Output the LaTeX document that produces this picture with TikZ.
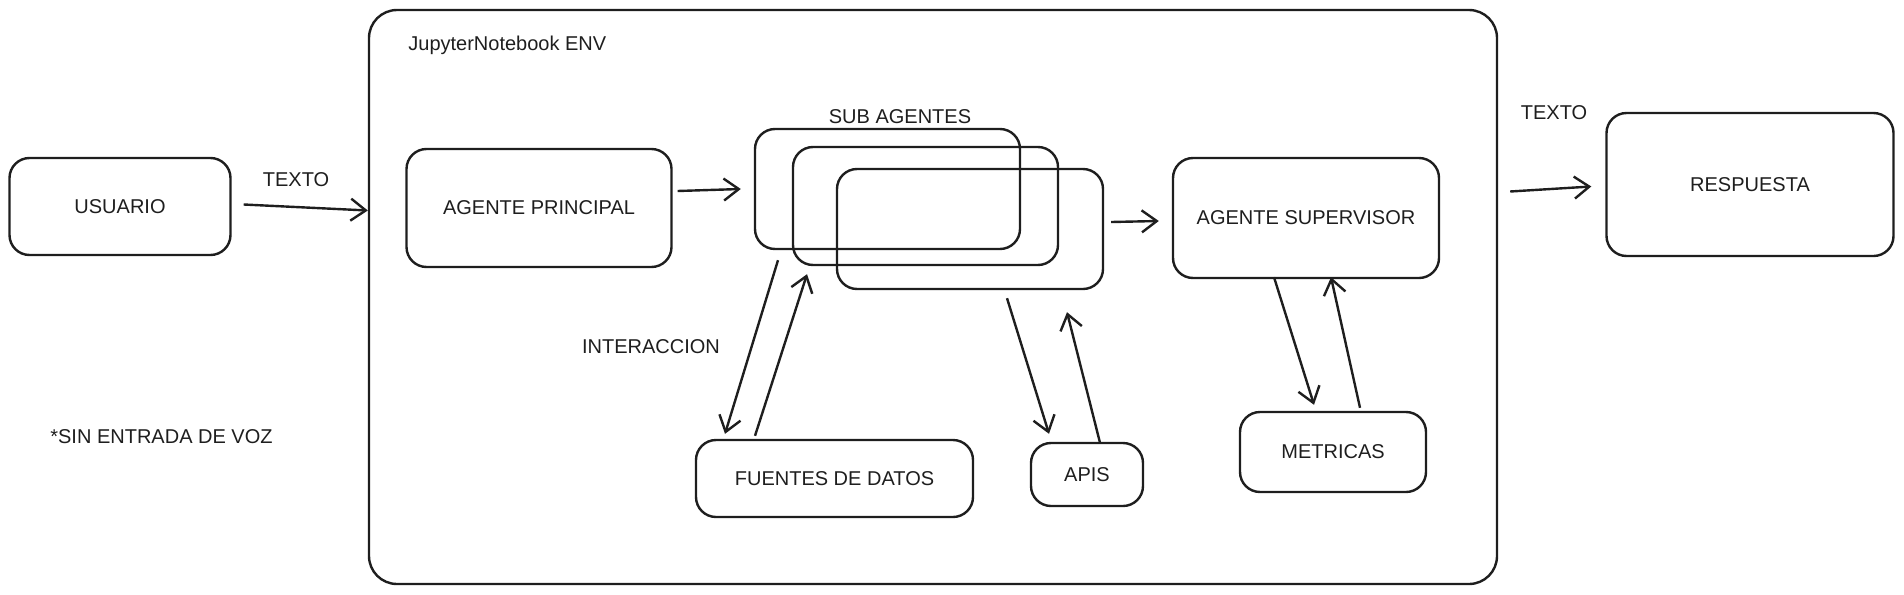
\documentclass[tikz,border=0pt]{standalone}
\usepackage{fontspec}
\setmainfont{Liberation Sans}
\usetikzlibrary{arrows.meta}
\definecolor{ink}{HTML}{1E1E1E}

\begin{document}
\begin{tikzpicture}[x=0.5pt, y=-0.5pt, color=ink, font=\fontsize{10}{12}\selectfont,
    box/.style={draw, line width=1.2pt, rounded corners=10pt, inner sep=0pt},
    lbl/.style={inner sep=0pt},
    arr/.style={line width=1.2pt, -{Straight Barb[length=7.5pt, width=11pt, line width=1.2pt]}}]
\useasboundingbox (0,0) rectangle (1904,594);
% outer environment
\node[box, rounded corners=14pt, minimum width=564pt, minimum height=287pt] (env) at (933,297) {};
\node[lbl, anchor=west] (envlbl) at (408,45) {JupyterNotebook ENV};
% outside nodes
\node[box, minimum width=110.5pt, minimum height=48.5pt] (usuario) at (120,206.5) {USUARIO};
\node[box, minimum width=143.5pt, minimum height=71.5pt] (respuesta) at (1750,184.5) {RESPUESTA};
\node[lbl] (texto1) at (296,180) {TEXTO};
\node[lbl] (texto2) at (1554,113) {TEXTO};
\node[lbl] (nota) at (161.5,437) {*SIN ENTRADA DE VOZ};
% agents
\node[box, minimum width=132.5pt, minimum height=59pt] (principal) at (539,208) {AGENTE PRINCIPAL};
\node[box, minimum width=132.5pt, minimum height=60pt] (sub1) at (887.5,189) {};
\node[box, minimum width=132.5pt, minimum height=59pt] (sub2) at (925.5,206) {};
\node[box, minimum width=133pt, minimum height=60pt] (sub3) at (970,229) {};
\node[lbl] (sublbl) at (900,117) {SUB AGENTES};
\node[box, minimum width=133pt, minimum height=60pt] (supervisor) at (1306,218) {AGENTE SUPERVISOR};
% tools
\node[box, minimum width=138.5pt, minimum height=38.5pt] (fuentes) at (834.5,478.5) {FUENTES DE DATOS};
\node[box, minimum width=56pt, minimum height=31.5pt] (apis) at (1087,474.5) {APIS};
\node[box, minimum width=93pt, minimum height=40pt] (metricas) at (1333,452) {METRICAS};
\node[lbl] (inter) at (651,347) {INTERACCION};
% flow
\draw[arr] ([shift={(12,-2)}]usuario.east) -- ([shift={(0,4)}]env.west |- usuario.east);
\draw[arr] ([shift={(5,-17)}]principal.east) -- ([shift={(-13,0)}]sub1.west);
\draw[arr] ([shift={(7,-7)}]sub3.east) -- ([shift={(-13,3)}]supervisor.west);
\draw[arr] ([shift={(12,7)}]env.east |- respuesta.west) -- ([shift={(-14,2)}]respuesta.west);
% interaccion
\draw[arr] ([shift={(-109.5,10)}]sub1.south) -- ([shift={(-109.5,-5)}]fuentes.north);
\draw[arr] ([shift={(-79.5,-3)}]fuentes.north) -- ([shift={(-118.5,8)}]sub2.south);
\draw[arr] ([shift={(37,8)}]sub3.south) -- ([shift={(-38,-8)}]apis.north);
\draw[arr] ([shift={(13,1)}]apis.north) -- ([shift={(97,22)}]sub3.south);
\draw[arr] ([shift={(-32,-2)}]supervisor.south) -- ([shift={(-19,-6)}]metricas.north);
\draw[arr] ([shift={(27,-3)}]metricas.north) -- ([shift={(25,-2)}]supervisor.south);
\end{tikzpicture}
\end{document}
